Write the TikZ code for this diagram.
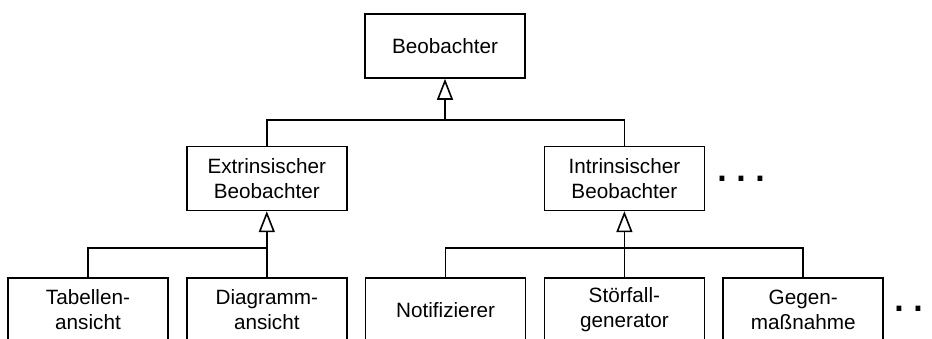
\documentclass[tikz,border=0pt]{standalone}
\usepackage{fontspec}
\setmainfont{Liberation Sans}
\usetikzlibrary{arrows.meta,positioning}

\begin{document}
\begin{tikzpicture}[
  x=1pt, y=1pt,
  line width=1.6pt,
  node distance=17.5pt and 17.2pt,
  cls/.style={draw, align=center, minimum width=160pt, minimum height=64pt, inner sep=0pt,
              font=\fontsize{20.7}{25}\selectfont},
  gen/.style={-{Triangle[open, length=21pt, width=16pt]}},
  more/.style={anchor=base west, inner sep=0pt, font=\fontsize{50}{50}\selectfont}
]
  \useasboundingbox (0,0) rectangle (932,-338);
  \clip (0,0) rectangle (932,-338);

  % observer hierarchy
  \node[cls] (beob) at (445,-46) {Beobachter};
  \node[cls] (tab) at (88,-310) {Tabellen-\\ansicht};
  \node[cls, right=of tab] (diag) {Diagramm-\\ansicht};
  \node[cls, right=of diag] (notif) {Notifizierer};
  \node[cls, right=of notif] (stoer) {Störfall-\\generator};
  \node[cls, right=of stoer] (gegen) {Gegen-\\maßnahme};
  \node[cls, above=66pt of diag] (extr) {Extrinsischer\\Beobachter};
  \node[cls, above=66pt of stoer] (intr) {Intrinsischer\\Beobachter};

  \node[more] (moreA) at (714.6,-181) {.\hspace{5pt}.\hspace{5pt}.};
  \node[more] (moreB) at (892,-311.5) {.\hspace{5pt}.\hspace{5pt}.};

  % generalisation connectors
  \coordinate[below=41pt of beob.south] (joinA);
  \coordinate[below=37pt of extr.south] (joinB);
  \coordinate[below=37pt of intr.south] (joinC);

  \draw (extr.north) |- (joinA) -| (intr.north);
  \draw[gen] (joinA) -- (beob.south);
  \draw (tab.north) |- (joinB);
  \draw[gen] (diag.north) -- (extr.south);
  \draw (notif.north) |- (joinC) -| (gegen.north);
  \draw[gen] (stoer.north) -- (intr.south);
\end{tikzpicture}
\end{document}
